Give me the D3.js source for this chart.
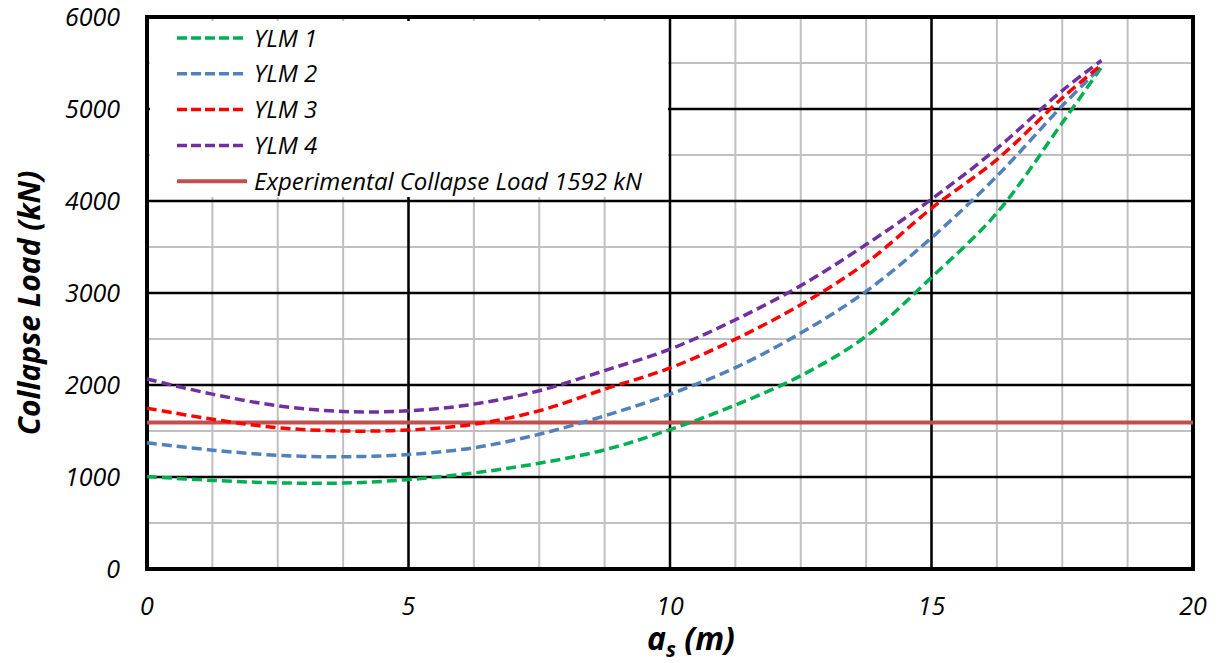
<!DOCTYPE html>
<html lang="en">
<head>
    <meta charset="UTF-8">
    <title>Collapse Load vs a_s</title>
    <script src="https://d3js.org/d3.v7.min.js"></script>
    <style>
        body { margin: 0; background: #fff; }
        text { font-family: "Open Sans", sans-serif; font-style: italic; fill: #000; }
    </style>
</head>
<body>
    <svg width=1221 height=663></svg>
<script>

    // a_s (m) sample positions
    var asValues = [0, 1.25, 2.5, 3.75, 5, 6.25, 7.5, 8.75, 10, 11.25, 12.5, 13.75, 15, 16.25, 17.5, 18.25]

    var ylm1 = [1005, 963, 937, 934, 972, 1044, 1150, 1295, 1515, 1782, 2100, 2530, 3170, 3870, 4850, 5455]
    var ylm2 = [1372, 1292, 1236, 1220, 1245, 1318, 1465, 1665, 1900, 2189, 2564, 3018, 3600, 4270, 5035, 5462]
    var ylm3 = [1748, 1628, 1536, 1500, 1511, 1573, 1720, 1955, 2185, 2498, 2873, 3327, 3920, 4450, 5120, 5480]
    var ylm4 = [2065, 1901, 1774, 1712, 1719, 1792, 1938, 2157, 2390, 2709, 3080, 3527, 4020, 4570, 5200, 5527]

    var experimental = 1592

    var seriesNames = ['YLM 1', 'YLM 2', 'YLM 3', 'YLM 4']
    var seriesColors = ['#00b050', '#4f81bd', '#ff0000', '#7030a0']
    var expLabel = 'Experimental Collapse Load 1592 kN'
    var expColor = '#c0504d'

    var xTicks = [0, 5, 10, 15, 20]
    var yTicks = [0, 1000, 2000, 3000, 4000, 5000, 6000]

    var margin = { top: 17, right: 28, bottom: 94, left: 147 }
    var w = 1221 - margin.left - margin.right
    var h = 663 - margin.top - margin.bottom

    var svg = d3.select('svg')
        .append('g')
        .attr('transform', `translate(${margin.left},${margin.top})`)

    var x = d3.scaleLinear().domain([0, 20]).range([0, w])
    var y = d3.scaleLinear().domain([0, 6000]).range([h, 0])

    // minor grid
    svg.append('g')
        .selectAll('line')
        .data(d3.range(0, 20.01, 1.25))
        .join('line')
        .attr('x1', d => x(d)).attr('x2', d => x(d))
        .attr('y1', 0).attr('y2', h)
        .attr('stroke', '#c0c0c0').attr('stroke-width', 2)

    svg.append('g')
        .selectAll('line')
        .data(d3.range(0, 6001, 500))
        .join('line')
        .attr('x1', 0).attr('x2', w)
        .attr('y1', d => y(d)).attr('y2', d => y(d))
        .attr('stroke', '#c0c0c0').attr('stroke-width', 2)

    // major grid
    svg.append('g')
        .selectAll('line')
        .data(xTicks)
        .join('line')
        .attr('x1', d => x(d)).attr('x2', d => x(d))
        .attr('y1', 0).attr('y2', h)
        .attr('stroke', '#000').attr('stroke-width', 2.5)

    svg.append('g')
        .selectAll('line')
        .data(yTicks)
        .join('line')
        .attr('x1', 0).attr('x2', w)
        .attr('y1', d => y(d)).attr('y2', d => y(d))
        .attr('stroke', '#000').attr('stroke-width', 2.5)

    // legend background hides the grid
    svg.append('rect')
        .attr('x', 3).attr('y', 4)
        .attr('width', 518).attr('height', 176)
        .attr('fill', '#fff')

    svg.append('rect')
        .attr('width', w).attr('height', h)
        .attr('fill', 'none')
        .attr('stroke', '#000').attr('stroke-width', 4)

    // experimental line
    svg.append('line')
        .attr('x1', x(0)).attr('x2', x(20))
        .attr('y1', y(experimental)).attr('y2', y(experimental))
        .attr('stroke', expColor).attr('stroke-width', 4)

    var line = d3.line()
        .x((d, i) => x(asValues[i]))
        .y(d => y(d))
        .curve(d3.curveCatmullRom.alpha(0.5))

    ;[ylm1, ylm2, ylm3, ylm4].forEach((vals, i) => {
        svg.append('path')
            .attr('d', line(vals))
            .attr('fill', 'none')
            .attr('stroke', seriesColors[i])
            .attr('stroke-width', 3.5)
            .attr('stroke-dasharray', '10,5')
    })

    // axis labels
    svg.append('g')
        .selectAll('text')
        .data(yTicks)
        .join('text')
        .attr('x', -27)
        .attr('y', d => y(d))
        .attr('dy', '0.36em')
        .attr('text-anchor', 'end')
        .style('font-size', '25px')
        .text(d => d)

    svg.append('g')
        .selectAll('text')
        .data(xTicks)
        .join('text')
        .attr('x', d => x(d))
        .attr('y', h + 37)
        .attr('dy', '0.36em')
        .attr('text-anchor', 'middle')
        .style('font-size', '25px')
        .text(d => d)

    svg.append('text')
        .attr('transform', `translate(-107,${y(3000) + 10}) rotate(-90)`)
        .attr('text-anchor', 'middle')
        .style('font-size', '30px')
        .style('font-weight', 'bold')
        .text('Collapse Load (kN)')

    var xTitle = svg.append('text')
        .attr('x', w / 2 + 21)
        .attr('y', h + 81)
        .attr('text-anchor', 'middle')
        .style('font-size', '32px')
        .style('font-weight', 'bold')
    xTitle.append('tspan').text('a')
    xTitle.append('tspan').attr('dy', 7).style('font-size', '21px').text('s')
    xTitle.append('tspan').attr('dy', -7).text(' (m)')

    // legend
    var legend = svg.append('g').attr('transform', 'translate(30,21)')
    var labels = seriesNames.concat([expLabel])
    labels.forEach((name, i) => {
        var row = legend.append('g').attr('transform', `translate(0,${i * 35.8})`)
        row.append('line')
            .attr('x1', 0).attr('x2', 70)
            .attr('stroke', i < 4 ? seriesColors[i] : expColor)
            .attr('stroke-width', i < 4 ? 3.5 : 4)
            .attr('stroke-dasharray', i < 4 ? '10,4' : null)
        row.append('text')
            .attr('x', 77)
            .attr('dy', '0.36em')
            .style('font-size', '24px')
            .text(name)
    })

</script>
</body>
</html>
